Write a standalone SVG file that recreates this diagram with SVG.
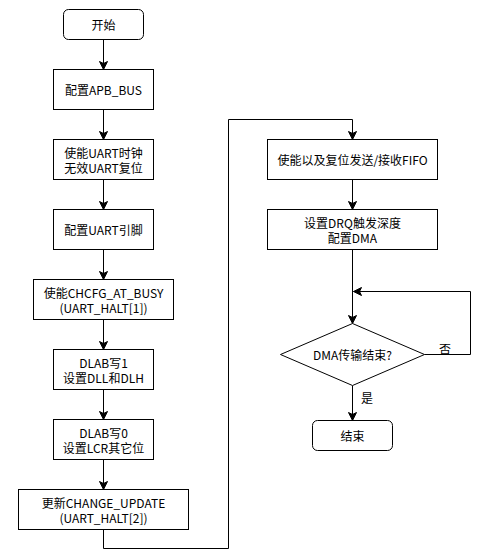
<svg xmlns="http://www.w3.org/2000/svg" width="481" height="556" viewBox="0 0 481 556">
<style>
.box{fill:#fff;stroke:#000;stroke-width:1}
.t{font-family:"Noto Sans CJK SC","Noto Sans",sans-serif;font-size:12px;fill:#000;text-anchor:middle;dominant-baseline:central}
.c{fill:none;stroke:#000;stroke-width:1}
</style>
<defs>
<marker id="arr" markerUnits="userSpaceOnUse" markerWidth="10" markerHeight="10" viewBox="0 0 10 10" refX="9" refY="5" orient="auto">
<path d="M1,1 L9,5 L1,9 L3,5 Z" fill="#000" stroke="#000" stroke-width="1"/>
</marker>
</defs>
<rect width="481" height="556" fill="#fff"/>
<g id="connectors">
<path class="c" d="M103.5,39.5 V69.5" marker-end="url(#arr)"/>
<path class="c" d="M103.5,109.5 V139.5" marker-end="url(#arr)"/>
<path class="c" d="M103.5,179.5 V209.5" marker-end="url(#arr)"/>
<path class="c" d="M103.5,249.5 V279.5" marker-end="url(#arr)"/>
<path class="c" d="M103.5,319.5 V349.5" marker-end="url(#arr)"/>
<path class="c" d="M103.5,389.5 V419.5" marker-end="url(#arr)"/>
<path class="c" d="M103.5,459.5 V489.5" marker-end="url(#arr)"/>
<path class="c" d="M103.5,529.5 V548.5 H228.5 V119.5 H352.5 V139.5" marker-end="url(#arr)"/>
<path class="c" d="M352.5,179.5 V209.5" marker-end="url(#arr)"/>
<path class="c" d="M352.5,249.5 V323.5" marker-end="url(#arr)"/>
<path class="c" d="M424.5,354.5 H470.5 V291.5 H353.5" marker-end="url(#arr)"/>
<path class="c" d="M352.5,385.5 V420.5" marker-end="url(#arr)"/>
<text class="t" x="445" y="348">否</text>
<text class="t" x="367" y="397">是</text>
</g>
<g id="start"><rect class="box" x="63.5" y="9.5" width="80" height="30" rx="5"/><text class="t" x="103.5" y="24.5">开始</text></g>
<g id="apb"><rect class="box" x="53.5" y="69.5" width="100" height="40"/><text class="t" x="103.5" y="89.5">配置APB_BUS</text></g>
<g id="clk"><rect class="box" x="53.5" y="139.5" width="100" height="40"/><text class="t" x="103.5" y="152">使能UART时钟</text><text class="t" x="103.5" y="167.5">无效UART复位</text></g>
<g id="pin"><rect class="box" x="53.5" y="209.5" width="100" height="40"/><text class="t" x="103.5" y="229.5">配置UART引脚</text></g>
<g id="busy"><rect class="box" x="33.5" y="279.5" width="140" height="40"/><text class="t" x="103.5" y="292">使能CHCFG_AT_BUSY</text><text class="t" x="103.5" y="307.5">(UART_HALT[1])</text></g>
<g id="dlab1"><rect class="box" x="53.5" y="349.5" width="100" height="40"/><text class="t" x="103.5" y="362">DLAB写1</text><text class="t" x="103.5" y="377.5">设置DLL和DLH</text></g>
<g id="dlab0"><rect class="box" x="53.5" y="419.5" width="100" height="40"/><text class="t" x="103.5" y="432">DLAB写0</text><text class="t" x="103.5" y="447.5">设置LCR其它位</text></g>
<g id="update"><rect class="box" x="18.5" y="489.5" width="170" height="40"/><text class="t" x="103.5" y="502">更新CHANGE_UPDATE</text><text class="t" x="103.5" y="517.5">(UART_HALT[2])</text></g>
<g id="fifo"><rect class="box" x="267.5" y="139.5" width="170" height="40"/><text class="t" x="352.5" y="159.5">使能以及复位发送/接收FIFO</text></g>
<g id="dma"><rect class="box" x="267.5" y="209.5" width="170" height="40"/><text class="t" x="352.5" y="222">设置DRQ触发深度</text><text class="t" x="352.5" y="237.5">配置DMA</text></g>
<g id="decision"><path class="box" d="M352.5,323.5 L424.5,354.5 L352.5,385.5 L280.5,354.5 Z"/><text class="t" x="352.5" y="354.5">DMA传输结束?</text></g>
<g id="end"><rect class="box" x="312.5" y="420.5" width="80" height="30" rx="5"/><text class="t" x="352.5" y="435.5">结束</text></g>
</svg>
